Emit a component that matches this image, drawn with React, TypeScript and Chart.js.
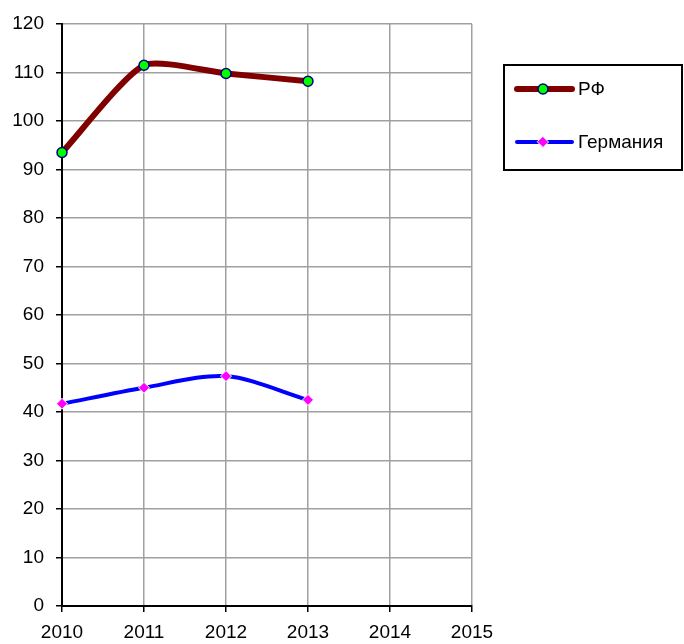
import React, { useEffect, useRef } from "react";
import { Chart, registerables } from "chart.js";

Chart.register(...registerables);

const years = [2010, 2011, 2012, 2013];
const rfValues = [93.5, 111.5, 109.8, 108.2];
const deValues = [41.7, 45.0, 47.4, 42.5];
const seriesNames = ["РФ", "Германия"];
const xMin = 2010;
const xMax = 2015;
const yMin = 0;
const yMax = 120;
const yStep = 10;

const FONT = "'Liberation Sans', Arial, sans-serif";

const legendPlugin = {
  id: "customLegend",
  afterDraw(chart: any) {
    const ctx = chart.ctx;
    ctx.save();
    const bx = 504, by = 65, bw = 178, bh = 105;
    ctx.lineWidth = 2;
    ctx.strokeStyle = "#000";
    ctx.strokeRect(bx, by, bw, bh);
    const rows = [89, 142];
    chart.data.datasets.forEach((ds: any, i: number) => {
      const y = rows[i];
      ctx.beginPath();
      ctx.lineCap = "round";
      ctx.strokeStyle = ds.borderColor;
      ctx.lineWidth = ds.borderWidth;
      ctx.moveTo(517, y);
      ctx.lineTo(572, y);
      ctx.stroke();
      const meta = chart.getDatasetMeta(i);
      const el = meta.data[0];
      if (el) {
        const opts = el.options;
        ctx.fillStyle = opts.backgroundColor;
        ctx.strokeStyle = opts.borderColor;
        ctx.lineWidth = opts.borderWidth;
        const r = opts.radius;
        ctx.beginPath();
        if (opts.pointStyle === "rectRot") {
          ctx.moveTo(543, y - r);
          ctx.lineTo(543 + r, y);
          ctx.lineTo(543, y + r);
          ctx.lineTo(543 - r, y);
          ctx.closePath();
        } else {
          ctx.arc(543, y, r, 0, Math.PI * 2);
        }
        ctx.fill();
        if (opts.borderWidth > 0) ctx.stroke();
      }
      ctx.fillStyle = "#000";
      ctx.font = `19px ${FONT}`;
      ctx.textBaseline = "middle";
      ctx.textAlign = "left";
      ctx.fillText(ds.label, 578, y + 1);
    });
    ctx.restore();
  },
};

export default function App() {
  const ref = useRef<HTMLCanvasElement | null>(null);
  useEffect(() => {
    document.body.style.margin = "0";
    if (!ref.current) return;
    const chart = new Chart(ref.current, {
      type: "line",
      data: {
        datasets: [
          {
            label: seriesNames[0],
            data: years.map((x, i) => ({ x, y: rfValues[i] })),
            borderColor: "#800000",
            borderWidth: 6,
            backgroundColor: "#00FF00",
            pointBackgroundColor: "#00FF00",
            pointBorderColor: "#000080",
            pointBorderWidth: 1.5,
            pointRadius: 5,
            pointStyle: "circle",
            tension: 0.2,
            clip: false as any,
          },
          {
            label: seriesNames[1],
            data: years.map((x, i) => ({ x, y: deValues[i] })),
            borderColor: "#0000FF",
            borderWidth: 4,
            backgroundColor: "#FF00FF",
            pointBackgroundColor: "#FF00FF",
            pointBorderColor: "#FFFFFF",
            pointBorderWidth: 1,
            pointRadius: 5.5,
            pointStyle: "rectRot",
            tension: 0.3,
            clip: false as any,
          },
        ],
      },
      options: {
        animation: false,
        responsive: false,
        maintainAspectRatio: false,
        layout: { padding: { top: 24, right: 212, left: 0, bottom: 0 } },
        plugins: { legend: { display: false }, tooltip: { enabled: false } },
        scales: {
          x: {
            type: "linear",
            min: xMin,
            max: xMax,
            afterFit: (s: any) => {
              s.height = 38;
            },
            ticks: {
              stepSize: 1,
              autoSkip: false,
              maxRotation: 0,
              padding: 9,
              color: "#000",
              font: { family: FONT, size: 19 },
              callback: (v: any) => String(v),
            },
            grid: { color: "#a0a0a0", lineWidth: 1.5, tickColor: "#000", tickLength: 6 },
            border: { color: "#000", width: 2 },
          },
          y: {
            min: yMin,
            max: yMax,
            afterFit: (s: any) => {
              s.width = 62;
            },
            ticks: {
              stepSize: yStep,
              padding: 12,
              color: "#000",
              font: { family: FONT, size: 19 },
            },
            grid: { color: "#a0a0a0", lineWidth: 1.5, tickColor: "#000", tickLength: 6 },
            border: { color: "#000", width: 2 },
          },
        },
      },
      plugins: [legendPlugin],
    });
    return () => chart.destroy();
  }, []);
  return (
    <div style={{ width: 684, height: 644, background: "#fff" }}>
      <canvas ref={ref} width={684} height={644} style={{ display: "block" }} />
    </div>
  );
}
